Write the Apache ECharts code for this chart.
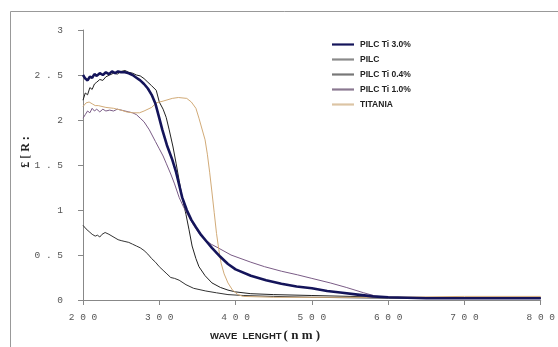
<!DOCTYPE html>
<html><head><meta charset="utf-8">
<script src="https://cdn.jsdelivr.net/npm/echarts@6/dist/echarts.min.js"></script>
<style>html,body{margin:0;padding:0;background:#fff}#c{width:558px;height:347px}</style>
</head><body><div id="c"></div>
<script>
// ---- data ----
const seriesNames = ["PILC Ti 3.0%", "PILC", "PILC Ti 0.4%", "PILC Ti 1.0%", "TITANIA"];
const xTicks = [200, 300, 400, 500, 600, 700, 800];
const yTicks = [0, 0.5, 1, 1.5, 2, 2.5, 3];

const ti30_nm = [200,203,206,209,212,215,218,222,226,230,234,238,242,246,250,255,260,265,270,275,280,285,290,295,300,304,310,317,322,326,330,336,342,348,355,362,369,380,390,400,420,440,460,480,500,520,540,560,580,600,650,700,750,800];
const ti30_v  = [2.50,2.46,2.44,2.48,2.47,2.51,2.49,2.52,2.50,2.53,2.51,2.54,2.52,2.54,2.53,2.53,2.52,2.50,2.47,2.44,2.40,2.35,2.28,2.18,2.02,1.89,1.72,1.56,1.42,1.28,1.14,1.00,0.89,0.81,0.72,0.65,0.58,0.48,0.40,0.34,0.27,0.22,0.18,0.15,0.13,0.10,0.08,0.06,0.04,0.03,0.02,0.02,0.02,0.02];

const pilc_nm = [200,204,208,212,216,219,222,225,227,229,231,234,238,242,246,250,255,260,265,270,275,280,285,290,295,300,305,310,315,320,326,335,345,361,375,390,410,450,500,600,700,800];
const pilc_v  = [0.83,0.79,0.76,0.73,0.71,0.72,0.70,0.73,0.72,0.75,0.76,0.73,0.71,0.69,0.67,0.66,0.65,0.64,0.62,0.60,0.58,0.55,0.51,0.46,0.42,0.37,0.33,0.29,0.25,0.24,0.22,0.17,0.13,0.10,0.08,0.06,0.05,0.04,0.03,0.02,0.02,0.02];

const ti04_nm = [200,203,206,209,212,215,218,222,226,230,235,240,245,250,255,260,265,270,275,280,285,290,296,300,305,309,313,318,322,326,330,335,339,343,348,352,360,369,380,390,400,420,450,500,550,600,700,800];
const ti04_v  = [2.22,2.30,2.28,2.36,2.34,2.40,2.42,2.45,2.44,2.48,2.50,2.52,2.51,2.54,2.55,2.53,2.52,2.50,2.49,2.46,2.42,2.38,2.33,2.20,2.12,2.03,1.89,1.70,1.52,1.33,1.14,0.95,0.78,0.60,0.46,0.37,0.27,0.19,0.14,0.11,0.09,0.07,0.06,0.05,0.04,0.03,0.02,0.02];

const ti10_nm = [200,203,206,209,212,215,218,222,226,230,235,240,245,250,255,260,265,270,275,280,287,295,300,305,309,315,320,326,332,339,345,352,360,368,377,394,420,438,460,481,500,524,545,568,585,600,650,700,800];
const ti10_v  = [2.02,2.06,2.10,2.08,2.13,2.10,2.12,2.09,2.12,2.10,2.11,2.10,2.12,2.11,2.10,2.09,2.08,2.06,2.02,1.98,1.89,1.76,1.68,1.60,1.52,1.40,1.29,1.14,1.03,0.92,0.83,0.74,0.67,0.62,0.58,0.50,0.42,0.37,0.32,0.28,0.24,0.19,0.14,0.08,0.04,0.03,0.02,0.02,0.02];

const tit_nm = [200,204,208,212,216,220,230,240,250,257,265,274,280,290,296,305,317,325,336,342,348,352,356,360,363,366,369,372,375,378,381,385,390,396,403,410,450,500,600,700,800];
const tit_v  = [2.15,2.19,2.20,2.18,2.16,2.16,2.14,2.13,2.11,2.09,2.08,2.08,2.10,2.14,2.19,2.21,2.24,2.25,2.24,2.20,2.13,2.02,1.90,1.78,1.62,1.42,1.20,0.97,0.74,0.56,0.41,0.29,0.19,0.11,0.06,0.04,0.03,0.03,0.03,0.04,0.04];

const seriesNm = [ti30_nm, pilc_nm, ti04_nm, ti10_nm, tit_nm];
const seriesV = [ti30_v, pilc_v, ti04_v, ti10_v, tit_v];
const colors = ["#14145a", "#333333", "#222222", "#7a5c86", "#d2ab78"];
const legendColors = ["#14145a", "#8a8a8a", "#777777", "#8a7890", "#dcc4a4"];
const widths = [2.6, 1, 1, 1, 1];

const spaced = s => String(s).split('').join(' ');
const chart = echarts.init(document.getElementById('c'));
chart.setOption({
  animation: false,
  backgroundColor: '#fff',
  grid: { left: 83, right: 12, top: 30, bottom: 47, containLabel: false },
  xAxis: {
    type: 'value', min: 200, max: 800, interval: 100,
    axisLine: { lineStyle: { color: '#888', width: 1 } },
    axisTick: { show: true, length: 5, lineStyle: { color: '#888' } },
    axisLabel: { margin: 12, color: '#555', fontFamily: 'Liberation Mono', fontSize: 9.5, formatter: v => spaced(v) },
    splitLine: { show: false }
  },
  yAxis: {
    type: 'value', min: 0, max: 3, interval: 0.5,
    axisLine: { show: true, lineStyle: { color: '#888', width: 1 } },
    axisTick: { show: true, length: 5, lineStyle: { color: '#888' } },
    axisLabel: { margin: 20, color: '#555', fontFamily: 'Liberation Mono', fontSize: 9.5, formatter: v => spaced(v) },
    splitLine: { show: false }
  },
  legend: {
    orient: 'vertical', left: 327, top: 35, itemWidth: 22, itemHeight: 8, itemGap: 6,
    data: seriesNames.map((n, i) => ({ name: n, icon: 'path://M0,0 L10,0 L10,1 L0,1 Z', itemStyle: { color: legendColors[i] } })),
    textStyle: { fontFamily: 'Liberation Sans', fontWeight: 'bold', fontSize: 8.5, color: '#222', padding: [0,0,0,1] }
  },
  graphic: [
    { type: 'rect', shape: { x: 10.5, y: 11.5, width: 600, height: 400 }, style: { fill: 'none', stroke: '#999', lineWidth: 1 }, silent: true, z: -1 },
    { type: 'text', x: 26, y: 152, rotation: Math.PI / 2,
      style: { text: '£ [ R :', font: 'bold 12px "Liberation Serif"', fill: '#222', align: 'center', verticalAlign: 'middle' } },
    { type: 'text', x: 210, y: 336,
      style: { text: '{a|WAVE  LENGHT}{b|( n m )}', verticalAlign: 'middle',
        rich: { a: { font: 'bold 9.5px "Liberation Sans"', fill: '#222' }, b: { font: 'bold 13px "Liberation Serif"', fill: '#222', padding: [0,0,0,2] } } } }
  ],
  series: seriesNames.map((n, i) => ({
    name: n, type: 'line', showSymbol: false, symbol: 'none', smooth: false,
    color: legendColors[i],
    lineStyle: { color: colors[i], width: widths[i] },
    data: seriesNm[i].map((x, k) => [x, seriesV[i][k]]),
    z: i === 0 ? 5 : 3
  }))
});
</script></body></html>
